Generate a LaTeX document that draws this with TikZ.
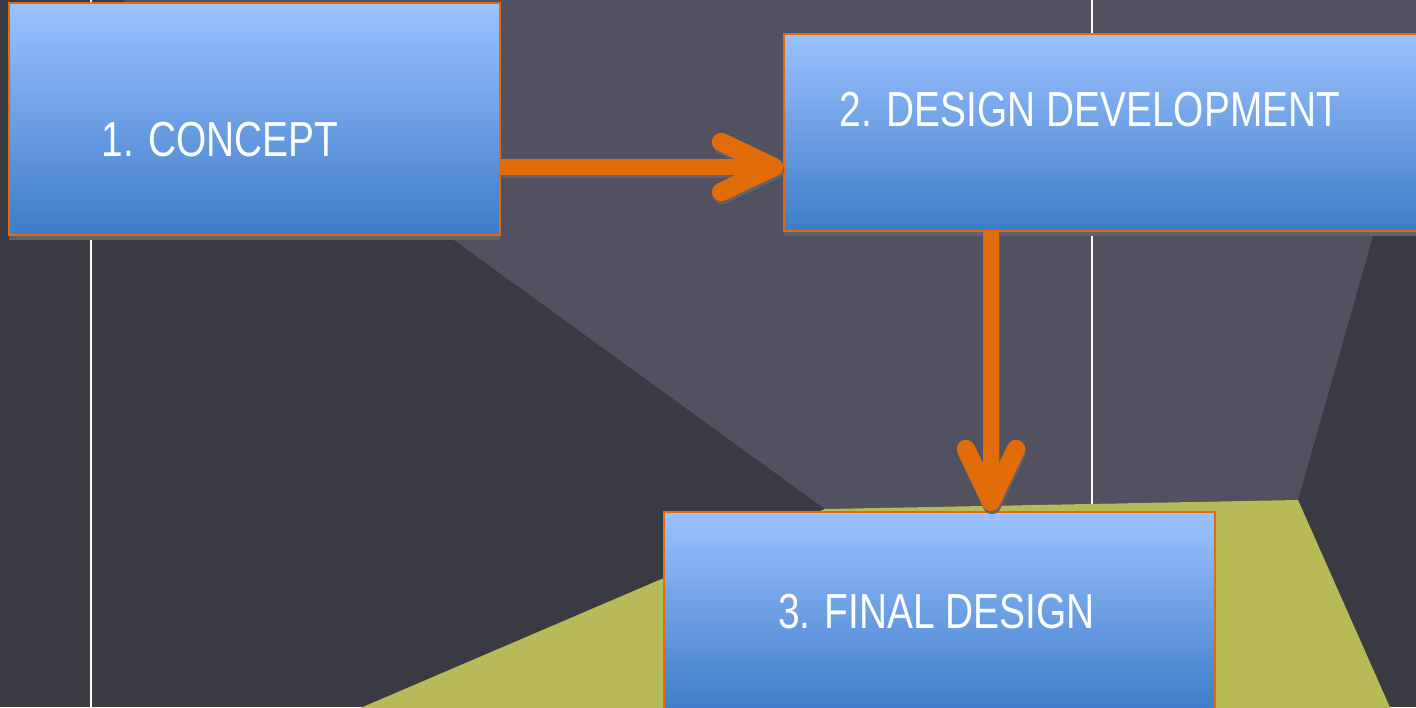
\documentclass[tikz,border=0pt]{standalone}
\usepackage{fontspec}
\setmainfont[FakeStretch=0.79]{Liberation Sans}
\usetikzlibrary{arrows.meta}
\usetikzlibrary{calc}
\usetikzlibrary{shadows}

\definecolor{bgdark}{RGB}{58,58,67}
\definecolor{bglight}{RGB}{81,81,95}
\definecolor{olivefield}{RGB}{184,186,88}
\definecolor{boxtop}{RGB}{156,194,255}
\definecolor{boxbottom}{RGB}{61,124,201}
\definecolor{flow}{RGB}{227,108,10}
\definecolor{shadowgray}{RGB}{98,98,110}

\tikzset{
  stagebox/.style={rectangle, draw=flow, line width=1.2pt, top color=boxtop, bottom color=boxbottom, inner sep=0pt,
    general shadow={fill=shadowgray, shadow yshift=-2.8pt}},
  stagetext/.style={text=white, font=\fontsize{28}{30}\selectfont, inner sep=0pt},
  flowarrow/.style={draw=flow, line width=9pt, -{Straight Barb[length=30pt, width=28.5pt, line width=10.5pt, round]}},
}

\begin{document}
\begin{tikzpicture}[x=0.02cm, y=-0.02cm]
    % background
    \fill[bgdark] (0,0) rectangle (1416,707);
    \useasboundingbox (0,0) rectangle (1416,707);
    \clip (0,0) rectangle (1416,707);
    \fill[bglight] (123,0) -- (1440,0) -- (1298,500) -- (825,509) -- cycle;
    \draw[white, line width=0.6pt] (91,0) -- (91,707);
    \draw[white, line width=0.6pt] (1092,0) -- (1092,520);
    \fill[olivefield] (825,509) -- (1298,500) -- (1400,730) -- (309,730) -- cycle;

    % boxes
    \node[stagebox, minimum width=9.82cm, minimum height=4.64cm] (concept) at (254.5,119) {};
    \node[stagebox, minimum width=13.2cm, minimum height=3.94cm] (design) at (1114,132.5) {};
    \node[stagebox, minimum width=11.02cm, minimum height=4cm] (final) at (939.5,612) {};

    \node[stagetext] at (220,140) {1. CONCEPT};
    \node[stagetext] at (1090,110) {2. DESIGN DEVELOPMENT};
    \node[stagetext] at (936.5,612) {3. FINAL DESIGN};

    % arrows
    \draw[flowarrow, draw=shadowgray, transform canvas={shift={(1,3)}}] ($(concept.east)+(0,48)$) -- ($(design.west)+(0,34.5)$);
    \draw[flowarrow] ($(concept.east)+(0,48)$) -- ($(design.west)+(0,34.5)$);
    \draw[flowarrow, draw=shadowgray, transform canvas={shift={(1,3)}}] ($(design.south)+(-123,0)$) -- ($(final.north)+(51.5,0)$);
    \draw[flowarrow] ($(design.south)+(-123,0)$) -- ($(final.north)+(51.5,0)$);
\end{tikzpicture}
\end{document}
